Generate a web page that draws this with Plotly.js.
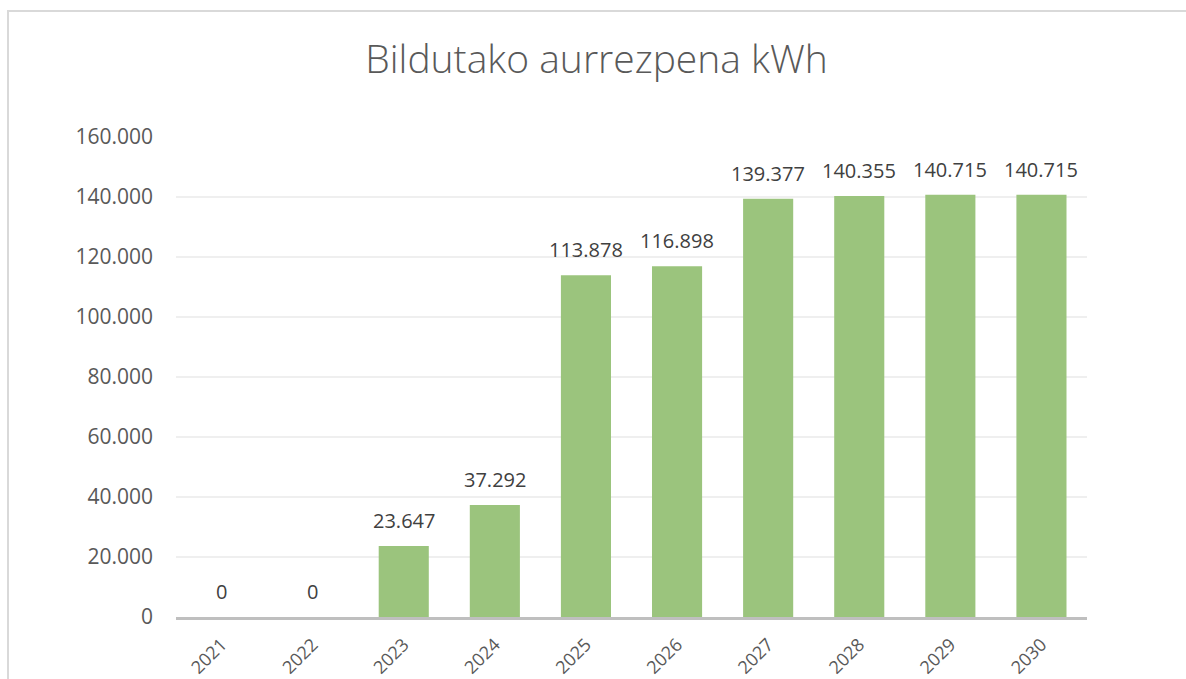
<!DOCTYPE html>
<html>
<head>
<meta charset="utf-8">
<script src="https://cdn.plot.ly/plotly-3.0.1.min.js"></script>
<style>
  html, body { margin: 0; padding: 0; background: #fff; overflow: hidden; }
  #frame { position: absolute; left: 7px; top: 10px; width: 1200px; height: 700px; border: 2px solid #d9d9d9; box-sizing: border-box; pointer-events: none; z-index: 5; }
  #chart { position: absolute; left: 0; top: 0; width: 1186px; height: 679px; }
</style>
</head>
<body>
<div id="chart"></div>
<div id="frame"></div>
<script>
const years = ['2021','2022','2023','2024','2025','2026','2027','2028','2029','2030'];
const savings = [0, 0, 23647, 37292, 113878, 116898, 139377, 140355, 140715, 140715];
const yTicks = [0, 20000, 40000, 60000, 80000, 100000, 120000, 140000, 160000];

const FONT = '"Open Sans", "Liberation Sans", sans-serif';

const trace = {
  type: 'bar',
  x: years,
  y: savings,
  marker: { color: '#9bc47d', line: { width: 0 } },
  hoverinfo: 'x+y'
};

const annotations = years.map((yr, i) => ({
  x: i, y: savings[i], xref: 'x', yref: 'y',
  text: savings[i].toLocaleString('de-DE'),
  showarrow: false, yanchor: 'bottom', yshift: 10,
  font: { family: FONT, size: 20, color: '#404040' }
}));

const layout = {
  width: 1186, height: 679,
  margin: { l: 176, r: 99, t: 137, b: 62 },
  paper_bgcolor: '#ffffff', plot_bgcolor: '#ffffff',
  separators: ',.',
  showlegend: false,
  bargap: 0.45,
  title: {
    text: 'Bildutako aurrezpena kWh',
    x: 0.503, xanchor: 'center',
    y: 0.912, yref: 'container', yanchor: 'middle',
    font: { family: FONT, size: 39, color: '#595959', weight: 300 }
  },
  xaxis: {
    type: 'category',
    range: [-0.5, years.length - 0.5],
    tickangle: -45,
    tickfont: { family: FONT, size: 18, color: '#595959' },
    showgrid: false,
    showline: true, linecolor: '#bfbfbf', linewidth: 3,
    ticks: '', ticklabelstandoff: 7, fixedrange: true
  },
  yaxis: {
    range: [0, 160000],
    tickvals: yTicks,
    tickformat: ',d',
    tickfont: { family: FONT, size: 21, color: '#595959' },
    showgrid: true, gridcolor: '#efefef', gridwidth: 1.5,
    zeroline: false, showline: false, ticks: '',
    ticklabelstandoff: 22,
    fixedrange: true
  },
  annotations: annotations
};

Plotly.newPlot('chart', [trace], layout, { displayModeBar: false, staticPlot: true });
</script>
</body>
</html>
